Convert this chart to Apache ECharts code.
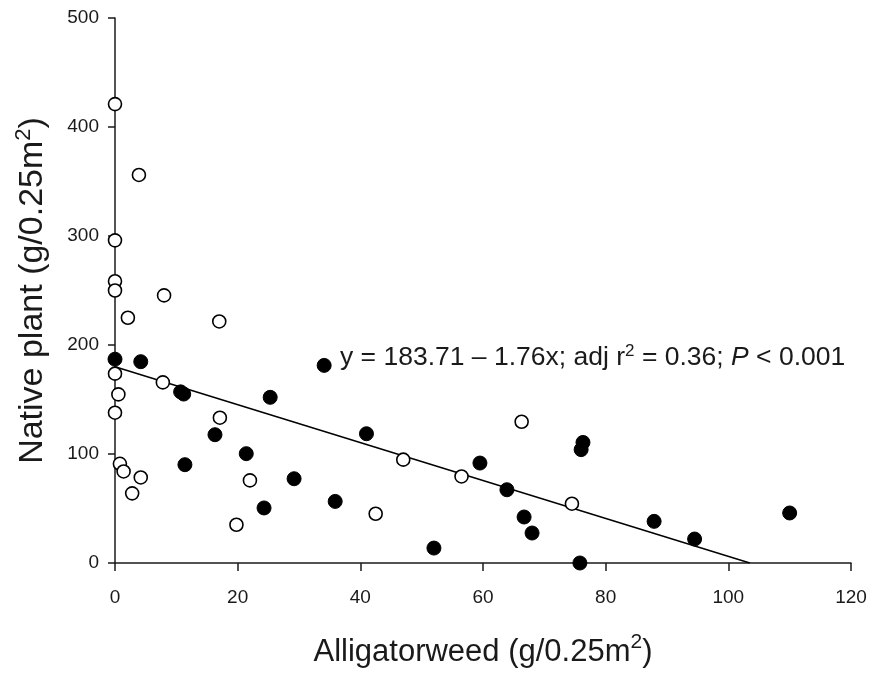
<!DOCTYPE html>
<html>
<head>
<meta charset="utf-8">
<script src="https://cdn.jsdelivr.net/npm/echarts@6/dist/echarts.min.js"></script>
<style>
  html, body { margin: 0; padding: 0; background: #fff; }
  #chart { width: 872px; height: 673px; }
</style>
</head>
<body>
<div id="chart"></div>
<script>
// open circles
var openX = [0, 3.9, 0, 0, 0, 8, 2.1, 17, 0, 7.8, 0.55, 0, 17.1, 0.8, 1.4, 4.2, 2.8, 22, 19.8, 47, 56.5, 66.3, 42.5, 74.5];
var openY = [421, 356, 296, 258.5, 250, 245.5, 225, 221.6, 173.7, 165.7, 154.7, 137.9, 133.3, 91, 84, 78.5, 63.9, 75.8, 35.1, 94.8, 79.4, 129.6, 45.2, 54.4];
// filled circles
var solidX = [0, 4.2, 10.7, 11.2, 25.3, 16.3, 21.4, 11.4, 24.3, 29.2, 34.1, 41, 35.9, 52, 59.5, 63.9, 66.7, 68, 76.3, 76, 75.8, 87.9, 94.5, 110];
var solidY = [187, 184.7, 157, 155, 152, 117.7, 100.3, 90.2, 50.5, 77.3, 181.3, 118.6, 56.5, 13.7, 91.7, 67.2, 42.2, 27.5, 110.6, 104, 0, 38.2, 22, 45.9];
// regression line ends as drawn
var fitX = [0, 103.5];
var fitY = [180, 0];

var xTicks = [0, 20, 40, 60, 80, 100, 120];
var yTicks = [0, 100, 200, 300, 400, 500];

function pairs(xs, ys) {
  var out = [];
  for (var i = 0; i < xs.length; i++) out.push([xs[i], ys[i]]);
  return out;
}

var font = "'Liberation Sans', Arial, sans-serif";
var ink = '#1a1a1a';

var chart = echarts.init(document.getElementById('chart'));
chart.setOption({
  animation: false,
  backgroundColor: '#fff',
  grid: { left: 115, right: 21, top: 18, bottom: 110, containLabel: false, outerBoundsMode: 'none' },
  xAxis: {
    type: 'value',
    min: xTicks[0],
    max: xTicks[xTicks.length - 1],
    interval: 20,
    name: 'Alligatorweed (g/0.25m{sup|2})',
    nameLocation: 'middle',
    nameGap: 69,
    nameTextStyle: {
      fontFamily: font, fontSize: 31, color: ink, lineHeight: 40,
      rich: { sup: { fontFamily: font, fontSize: 21, color: ink, verticalAlign: 'top', lineHeight: 24 } }
    },
    axisLine: { show: true, lineStyle: { color: ink, width: 1.5 } },
    axisTick: { show: true, inside: false, length: 8, lineStyle: { color: ink, width: 1.5 } },
    axisLabel: { fontFamily: font, fontSize: 19, color: ink, margin: 25 },
    splitLine: { show: false }
  },
  yAxis: {
    type: 'value',
    min: yTicks[0],
    max: yTicks[yTicks.length - 1],
    interval: 100,
    name: 'Native plant (g/0.25m{sup|2})',
    nameLocation: 'middle',
    nameGap: 62,
    nameTextStyle: {
      fontFamily: font, fontSize: 34, color: ink, lineHeight: 40,
      rich: { sup: { fontFamily: font, fontSize: 22, color: ink, verticalAlign: 'top', lineHeight: 24 } }
    },
    axisLine: { show: true, lineStyle: { color: ink, width: 1.5 } },
    axisTick: { show: true, inside: false, length: 7, lineStyle: { color: ink, width: 1.5 } },
    axisLabel: { fontFamily: font, fontSize: 19, color: ink, margin: 16 },
    splitLine: { show: false }
  },
  series: [
    {
      type: 'line',
      data: pairs(fitX, fitY),
      showSymbol: false,
      symbol: 'none',
      lineStyle: { color: '#000', width: 1.5 },
      z: 1
    },
    {
      type: 'scatter',
      data: pairs(solidX, solidY),
      symbol: 'circle',
      symbolSize: 14,
      clip: false,
      itemStyle: { color: '#000', borderColor: '#000', borderWidth: 1, opacity: 1 },
      z: 3
    },
    {
      type: 'scatter',
      data: pairs(openX, openY),
      symbol: 'circle',
      symbolSize: 13,
      clip: false,
      itemStyle: { color: '#fff', borderColor: '#000', borderWidth: 1.6, opacity: 1 },
      z: 4
    }
  ],
  graphic: [
    {
      type: 'text',
      left: 340,
      top: 343,
      style: {
        text: 'y = 183.71 \u2013 1.76x; adj r{sup|2} = 0.36; {it|P} < 0.001',
        font: '26.5px ' + font,
        fill: ink,
        lineHeight: 30,
        rich: {
          sup: { fontFamily: font, fontSize: 17, fill: ink, verticalAlign: 'top', lineHeight: 14 },
          it: { fontFamily: font, fontSize: 26.5, fontStyle: 'italic', fill: ink }
        }
      }
    }
  ]
});
</script>
</body>
</html>
